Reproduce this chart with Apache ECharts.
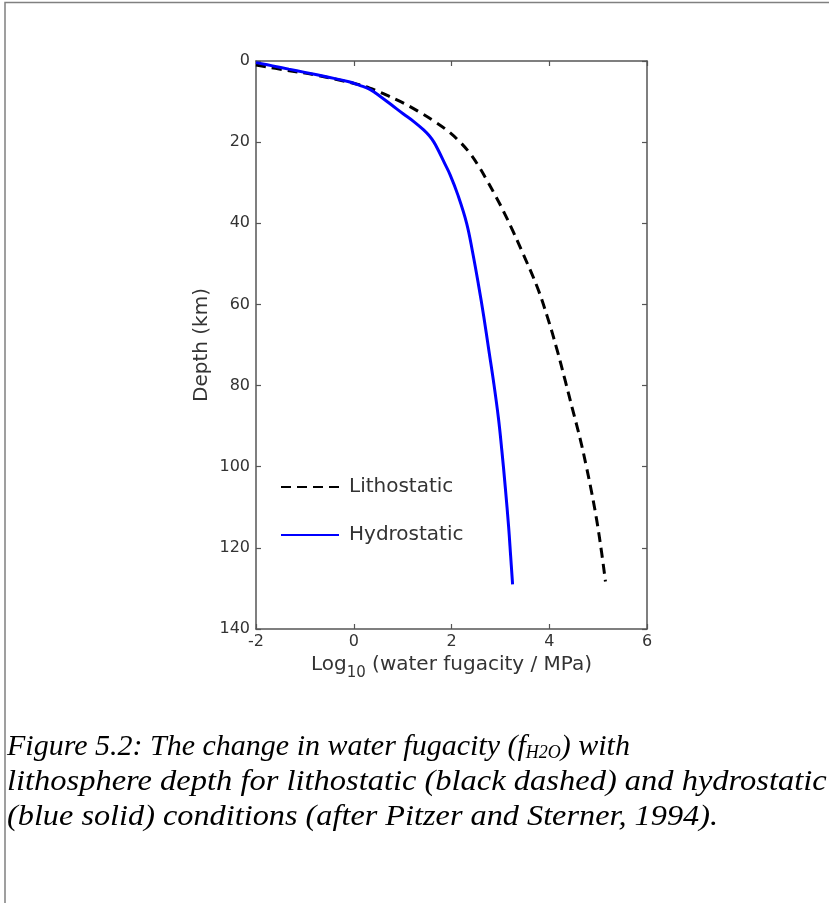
<!DOCTYPE html>
<html>
<head>
<meta charset="utf-8">
<style>
  html, body { margin: 0; padding: 0; background: #fff; }
  #chart { width: 829px; height: 903px; }
</style>
<script src="https://cdn.jsdelivr.net/npm/echarts@6/dist/echarts.min.js"></script>
</head>
<body>
<div id="chart"></div>
<script>
// Depth (km) against log10 of water fugacity (MPa)
const lithoDepth = [1.0, 2.2, 3.5, 4.7, 5.9, 7.3, 8.8, 10.7, 12.7, 14.8, 17.0, 19.8, 22.8, 26.0, 29.3, 33.0, 36.7, 42.0, 47.4, 55.6, 63.0, 71.2, 78.5, 86.0, 93.0, 100.0, 106.5, 113.1, 121.0, 128.3];
const lithoFug   = [-2.0, -1.41, -0.76, -0.30, 0.13, 0.46, 0.74, 1.07, 1.36, 1.64, 1.90, 2.16, 2.38, 2.56, 2.72, 2.89, 3.05, 3.26, 3.46, 3.75, 3.96, 4.16, 4.32, 4.48, 4.63, 4.76, 4.87, 4.97, 5.07, 5.15];

const hydroDepth = [0.4, 1.2, 2.0, 2.8, 3.9, 5.1, 6.0, 7.0, 8.8, 10.8, 13.0, 15.0, 17.0, 18.5, 20.0, 22.0, 25.0, 28.0, 33.0, 40.0, 47.0, 55.0, 63.0, 71.0, 79.0, 88.0, 96.0, 105.0, 115.0, 122.0, 129.0];
const hydroFug   = [-2.0, -1.66, -1.33, -1.00, -0.56, -0.10, 0.12, 0.33, 0.55, 0.77, 1.01, 1.235, 1.43, 1.55, 1.64, 1.73, 1.85, 1.97, 2.13, 2.31, 2.43, 2.55, 2.66, 2.76, 2.86, 2.96, 3.03, 3.10, 3.17, 3.21, 3.25];

const xTicks = { min: -2, max: 6, interval: 2 };
const yTicks = { min: 0, max: 140, interval: 20 };

const captionLines = [
  '{c|Figure 5.2: The change in water fugacity (f}{sub|H2O}{c|) with}',
  '{c|lithosphere depth for lithostatic (black dashed) and hydrostatic}',
  '{c|(blue solid) conditions (after Pitzer and Sterner, 1994).}'
];

const axisColor = '#555';
const labelColor = '#333';
const sansFont = 'DejaVu Sans';
const serifFont = 'Liberation Serif';

const pairs = (xs, ys) => xs.map((x, i) => [x, ys[i]]);

const chart = echarts.init(document.getElementById('chart'), null, { renderer: 'canvas' });

const baseAxis = {
  axisLine: { show: true, onZero: false, lineStyle: { color: axisColor, width: 1.5 } },
  axisTick: { show: true, inside: true, length: 5, lineStyle: { color: axisColor, width: 1.2 } },
  splitLine: { show: false }
};

const captionRich = {
  c: { fontFamily: serifFont, fontStyle: 'italic', fontSize: 30, lineHeight: 35, fill: '#000' },
  sub: { fontFamily: serifFont, fontStyle: 'italic', fontSize: 18, lineHeight: 35, fill: '#000', padding: [11, 0, 0, 0] }
};
const captionStretch = [1.0, 1.083, 1.076];

const captionGraphics = captionLines.map((text, i) => ({
  type: 'text',
  x: 7,
  y: 730 + i * 35,
  scaleX: captionStretch[i],
  silent: true,
  style: { text: text, rich: captionRich, verticalAlign: 'top', align: 'left' }
}));

chart.setOption({
  backgroundColor: '#fff',
  animation: false,
  grid: { left: 256, top: 61, width: 391, height: 568, containLabel: false },
  legend: {
    orient: 'vertical',
    left: 280,
    top: 477,
    padding: 0,
    itemWidth: 58,
    itemHeight: 20,
    itemGap: 28,
    itemStyle: { opacity: 0 },
    textStyle: { fontFamily: sansFont, fontSize: 20, color: labelColor, padding: [0, 0, 0, 5] },
    data: ['Lithostatic', 'Hydrostatic']
  },
  xAxis: [
    Object.assign({}, baseAxis, {
      type: 'value', position: 'bottom',
      min: xTicks.min, max: xTicks.max, interval: xTicks.interval,
      axisLabel: { color: labelColor, fontFamily: sansFont, fontSize: 16, margin: 5 },
      name: '{n|Log}{s|10}{n| (water fugacity / MPa)}',
      nameLocation: 'middle',
      nameGap: 20,
      nameTextStyle: {
        rich: {
          n: { fontFamily: sansFont, fontSize: 20, color: labelColor },
          s: { fontFamily: sansFont, fontSize: 15, color: labelColor, padding: [16, 0, 0, 0] }
        }
      }
    }),
    Object.assign({}, baseAxis, {
      type: 'value', position: 'top',
      min: xTicks.min, max: xTicks.max, interval: xTicks.interval,
      axisLabel: { show: false }
    })
  ],
  yAxis: [
    Object.assign({}, baseAxis, {
      type: 'value', position: 'left', inverse: true,
      min: yTicks.min, max: yTicks.max, interval: yTicks.interval,
      axisLabel: { color: labelColor, fontFamily: sansFont, fontSize: 16, margin: 6 },
      name: 'Depth (km)',
      nameLocation: 'middle',
      nameGap: 44,
      nameTextStyle: { fontFamily: sansFont, fontSize: 20, color: labelColor }
    }),
    Object.assign({}, baseAxis, {
      type: 'value', position: 'right', inverse: true,
      min: yTicks.min, max: yTicks.max, interval: yTicks.interval,
      axisLabel: { show: false }
    })
  ],
  series: [
    {
      name: 'Lithostatic',
      type: 'line',
      xAxisIndex: 0, yAxisIndex: 0,
      data: pairs(lithoFug, lithoDepth),
      smooth: 0.4,
      symbol: 'none',
      lineStyle: { color: '#000', width: 3, type: [10, 6] },
      itemStyle: { color: '#000' }
    },
    {
      name: 'Hydrostatic',
      type: 'line',
      xAxisIndex: 0, yAxisIndex: 0,
      data: pairs(hydroFug, hydroDepth),
      smooth: 0.4,
      symbol: 'none',
      lineStyle: { color: '#0000ff', width: 3 },
      itemStyle: { color: '#0000ff' }
    }
  ],
  graphic: [
    {
      type: 'rect',
      shape: { x: 5, y: 2.5, width: 900, height: 960 },
      style: { fill: null, stroke: '#808080', lineWidth: 1.5 },
      silent: true
    }
  ].concat(captionGraphics)
});
</script>
</body>
</html>
